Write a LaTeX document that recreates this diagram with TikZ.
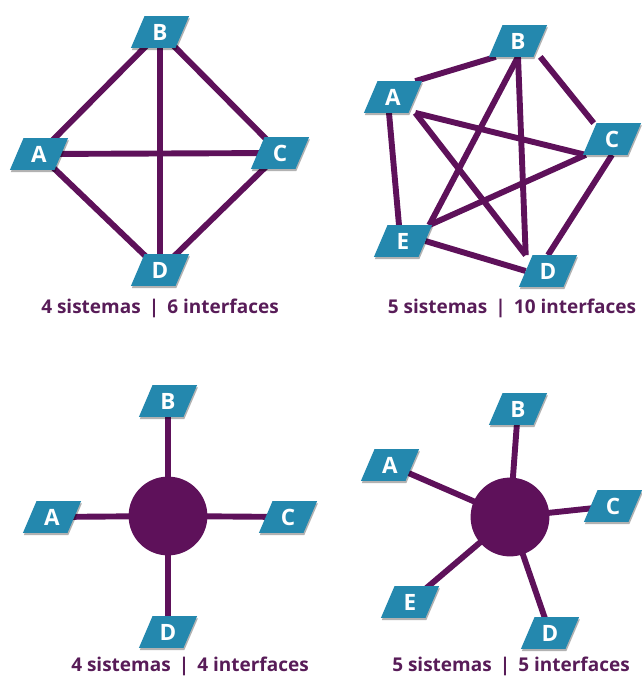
\documentclass[tikz,border=0pt]{standalone}
\usepackage{fontspec}
\setmainfont{Open Sans}
\usetikzlibrary{shadows,backgrounds}
\pgfdeclarelayer{boxes}
\pgfsetlayers{background,boxes,main}
\definecolor{sysblue}{RGB}{36,136,174}
\definecolor{linkpurple}{RGB}{94,17,90}
\definecolor{captionpurple}{RGB}{88,28,88}
\begin{document}
\begin{tikzpicture}[
    x=0.025cm, y=-0.025cm,
    sys/.style={rectangle, text=white, font=\bfseries\fontsize{16}{16}\selectfont,
        minimum width=1.1cm, minimum height=0.78cm, inner sep=0pt},
    sysfill/.style={fill=sysblue, drop shadow={shadow xshift=0.6pt, shadow yshift=-1.6pt, opacity=0.3, fill=black}},
    link/.style={draw=linkpurple, line width=4.2pt},
    hub/.style={circle, fill=linkpurple, minimum size=1.97cm, inner sep=0pt},
    caption/.style={text=captionpurple, font=\bfseries\fontsize{13.5}{14}\selectfont}
]
\useasboundingbox (0,0) rectangle (641,684);

% 4 systems, point to point
\node[sys] (m4A) at (39,154) {A};
\node[sys] (m4B) at (160,32) {B};
\node[sys] (m4C) at (280,153) {C};
\node[sys] (m4D) at (160,270) {D};
\node[caption] (m4cap) at (160,308) {4 sistemas \,|\, 6 interfaces};

% 5 systems, point to point
\node[sys] (m5A) at (393,97) {A};
\node[sys] (m5B) at (518,41) {B};
\node[sys] (m5C) at (612,139) {C};
\node[sys] (m5D) at (548,271) {D};
\node[sys] (m5E) at (403,241) {E};
\node[caption] (m5cap) at (512,308) {5 sistemas \,|\, 10 interfaces};

% 4 systems, hub
\node[hub] (h4) at (168,516) {};
\node[sys] (h4A) at (52,517) {A};
\node[sys] (h4B) at (168,401) {B};
\node[sys] (h4C) at (288,517) {C};
\node[sys] (h4D) at (168,632) {D};
\node[caption] (h4cap) at (190,666) {4 sistemas \,|\, 4 interfaces};

% 5 systems, hub
\node[hub] (h5) at (510,517) {};
\node[sys] (h5A) at (390,465) {A};
\node[sys] (h5B) at (518,409) {B};
\node[sys] (h5C) at (613,506) {C};
\node[sys] (h5D) at (550,633) {D};
\node[sys] (h5E) at (410,602) {E};
\node[caption] (h5cap) at (511,666) {5 sistemas \,|\, 5 interfaces};

% Slanted system boxes
\begin{pgfonlayer}{boxes}
\foreach \n in {m4A,m4B,m4C,m4D,m5A,m5B,m5C,m5D,m5E,h4A,h4B,h4C,h4D,h5A,h5B,h5C,h5D,h5E}
    \fill[sysfill] ([xshift=-0.17cm]\n.south west) -- ([xshift=-0.17cm]\n.south east)
        -- ([xshift=0.17cm]\n.north east) -- ([xshift=0.17cm]\n.north west) -- cycle;
\end{pgfonlayer}

% Connections
\begin{scope}[on background layer]
\draw[link] (m4A.center) -- (m4B.center);
\draw[link] (m4A.center) -- (m4C.center);
\draw[link] (m4A.center) -- (m4D.center);
\draw[link] (m4B.center) -- (m4C.center);
\draw[link] (m4B.center) -- (m4D.center);
\draw[link] (m4C.center) -- (m4D.center);

\draw[link] (m5A.north east) -- (m5B.south west);
\draw[link] (m5A.south east) -- ([xshift=-0.1cm]m5C.south west);
\draw[link] (m5A.south east) -- (m5D.north west);
\draw[link] ([xshift=-0.1cm]m5A.south) -- ([xshift=-0.1cm]m5E.north);
\draw[link] (m5B.south east) -- ([xshift=0.1cm]m5C.north west);
\draw[link] (m5B.south) -- (m5D.north west);
\draw[link] (m5B.south) -- ([xshift=0.1cm]m5E.north east);
\draw[link] (m5C.south) -- (m5D.north);
\draw[link] ([xshift=-0.1cm]m5C.south west) -- ([xshift=0.1cm]m5E.north east);
\draw[link] (m5E.east) -- (m5D.west);

\foreach \s in {A,B,C,D}
    \draw[link] (h4.center) -- (h4\s.center);
\foreach \s in {A,B,C,D,E}
    \draw[link] (h5.center) -- (h5\s.center);
\end{scope}
\end{tikzpicture}
\end{document}
